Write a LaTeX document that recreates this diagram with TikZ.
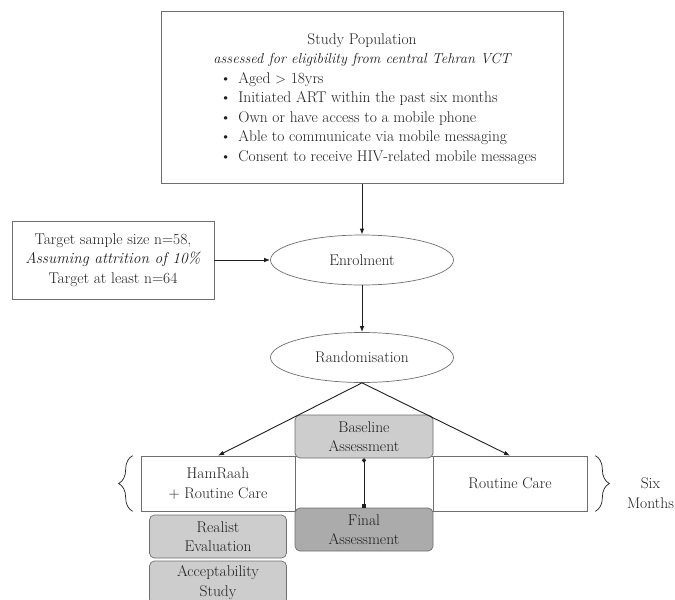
\documentclass[tikz,border=0pt]{standalone}
\usepackage{tikz}
\usetikzlibrary{calc,arrows.meta,shapes.geometric,decorations.pathreplacing}
\definecolor{edge}{HTML}{6E6E6E}
\definecolor{ink}{HTML}{1E1E1E}
\definecolor{lightfill}{HTML}{CDCDCD}
\definecolor{darkfill}{HTML}{ABABAB}
\tikzset{
  lab/.style={text=ink, font=\fontsize{15.5}{19.5}\selectfont, align=center, inner sep=0pt},
  plainbox/.style={lab, draw=edge, line width=0.7pt, rectangle},
  oval/.style={lab, draw=edge, line width=0.7pt, ellipse, minimum width=183, minimum height=50},
  greybox/.style={lab, draw=edge, line width=0.7pt, rounded corners=5pt, fill=lightfill,
    minimum width=138, minimum height=43},
  arr/.style={draw=ink, line width=0.9pt, -{Latex[length=6pt,width=4.5pt]}},
  link/.style={draw=ink, line width=0.9pt, {Circle[length=4pt]}-{Square[length=4pt]}},
  brace/.style={draw=ink, line width=0.7pt, decorate, decoration={brace, amplitude=14pt}},
}

\begin{document}
\begin{tikzpicture}[x=1pt, y=1pt]
  \useasboundingbox (0,0) rectangle (675,-600);

  % eligibility
  \node[plainbox, minimum width=402, minimum height=172] (pop) at (362,-97.5) {};
  \node[lab] (poptitle) at (362,-50) {Study Population\\{\fontsize{14.5}{19.5}\selectfont\itshape assessed for eligibility from central Tehran VCT}};
  \node[lab, anchor=north west] (crit) at (220,-69.5) {%
    \begin{tabular}{@{}c@{\hspace{7pt}}l@{}}
      \textbullet & Aged $>$ 18yrs\\
      \textbullet & Initiated ART within the past six months\\
      \textbullet & Own or have access to a mobile phone\\
      \textbullet & Able to communicate via mobile messaging\\
      \textbullet & Consent to receive HIV-related mobile messages
    \end{tabular}};

  \node[plainbox, minimum width=202, minimum height=78] (target) at (113,-260)
    {Target sample size n=58,\\\textit{Assuming attrition of 10\%}\\Target at least n=64};

  \node[oval] (enrol) at (362,-260) {Enrolment};
  \node[oval] (rand) at (362,-357.5) {Randomisation};

  % arms
  \node[plainbox, minimum width=154, minimum height=55] (ham) at (218,-483.5) {HamRaah\\+ Routine Care};
  \node[plainbox, minimum width=138, minimum height=55] (mid) at (364,-483.5) {};
  \node[plainbox, minimum width=154, minimum height=55] (rc) at (510,-483.5) {Routine Care};

  \node[greybox] (base) at (364,-436.5) {Baseline\\Assessment};
  \node[greybox, fill=darkfill] (final) at (364,-529.5) {Final\\Assessment};
  \node[greybox, minimum width=137] (realist) at (218,-536.5) {Realist\\Evaluation};
  \node[greybox, minimum width=137] (accept) at (218,-582.5) {Acceptability\\Study};

  \draw[arr] (pop) -- (enrol);
  \draw[arr] (target) -- (enrol);
  \draw[arr] (enrol) -- (rand);
  \draw[arr] (rand.south) -- (ham.north);
  \draw[arr] (rand.south) -- (rc.north);
  \draw[link] (base.south) -- (final.north);

  % six months
  \coordinate (lb1) at ($(ham.south west)+(-8,0)$);
  \coordinate (lb2) at ($(ham.north west)+(-8,0)$);
  \coordinate (rb1) at ($(rc.north east)+(8,0)$);
  \coordinate (rb2) at ($(rc.south east)+(8,0)$);
  \draw[brace] (lb1) -- (lb2);
  \draw[brace] (rb1) -- (rb2);
  \node[lab, anchor=east] (six) at (674,-493) {Six\\Months};
\end{tikzpicture}
\end{document}
